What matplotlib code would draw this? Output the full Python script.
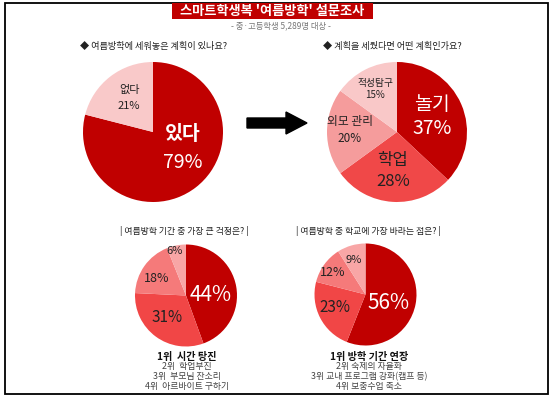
import matplotlib
matplotlib.use("Agg")
import matplotlib.pyplot as plt
from matplotlib.patches import Rectangle, FancyArrow

plt.rcParams['font.family'] = ['Noto Sans CJK KR', 'DejaVu Sans']

# ---------------- data ----------------
title = "스마트학생복 '여름방학' 설문조사"
subtitle = "- 중·고등학생 5,289명 대상 -"

q1 = "◆ 여름방학에 세워놓은 계획이 있나요?"
plan_labels = ["있다", "없다"]
plan_values = [79, 21]

q2 = "◆ 계획을 세웠다면 어떤 계획인가요?"
kind_labels = ["놀기", "학업", "외모 관리", "적성탐구"]
kind_values = [37, 28, 20, 15]

q3 = "| 여름방학 기간 중 가장 큰 걱정은? |"
worry_values = [44, 31, 18, 6]
worry_ranks = ["1위  시간 탕진", "2위  학업부진", "3위  부모님 잔소리", "4위  아르바이트 구하기"]

q4 = "| 여름방학 중 학교에 가장 바라는 점은? |"
wish_values = [56, 23, 12, 9]
wish_ranks = ["1위 방학 기간 연장", "2위 숙제의 자율화", "3위 교내 프로그램 강화(캠프 등)", "4위 보충수업 축소"]

# ---------------- figure ----------------
W, H = 550, 397
fig = plt.figure(figsize=(W / 100, H / 100), dpi=100)
ax = fig.add_axes([0, 0, 1, 1])


def Y(y):
    return H - y


DARK = '#C00000'
pie1_colors = [DARK, '#F9C9C9']
pie2_colors = [DARK, '#F04848', '#F59C9C', '#F9C8C8']
pie3_colors = [DARK, '#F14646', '#F57A7A', '#F8A6A6']

wp = dict(linewidth=0)
ax.pie(plan_values, colors=pie1_colors, startangle=90, counterclock=False,
       center=(153, Y(132)), radius=70, wedgeprops=wp)
ax.pie(kind_values, colors=pie2_colors, startangle=90, counterclock=False,
       center=(397, Y(132)), radius=70, wedgeprops=wp)
ax.pie(worry_values, colors=pie3_colors, startangle=90, counterclock=False,
       center=(186, Y(295.5)), radius=51, wedgeprops=wp)
ax.pie(wish_values, colors=pie3_colors, startangle=90, counterclock=False,
       center=(365.5, Y(294.5)), radius=51, wedgeprops=wp)

ax.set_xlim(0, W)
ax.set_ylim(0, H)
ax.set_aspect('auto')
ax.axis('off')

# frame
ax.add_patch(Rectangle((4.5, Y(394)), 543.5, 391, fill=False, edgecolor='black', linewidth=1.3))

# title
ax.add_patch(Rectangle((172, Y(19)), 201, 16, facecolor=DARK, edgecolor='none'))
ax.text(272.5, Y(11), title, ha='center', va='center', color='white', fontsize=9.5, fontweight='bold')
ax.text(281, Y(25.5), subtitle, ha='center', va='center', color='#777777', fontsize=6)

# questions
ax.text(80, Y(46), q1, ha='left', va='center', fontsize=6.6, color='#222222')
ax.text(323, Y(46), q2, ha='left', va='center', fontsize=6.6, color='#222222')
ax.text(184.5, Y(231), q3, ha='center', va='center', fontsize=6.4, color='#222222')
ax.text(368.5, Y(231), q4, ha='center', va='center', fontsize=6.4, color='#222222')

# arrow
ax.add_patch(FancyArrow(247, Y(123), 60, 0, width=10, head_width=22, head_length=21,
                        length_includes_head=True, color='black'))

# pie 1 labels
ax.text(183, Y(134), plan_labels[0], ha='center', va='center', color='white', fontsize=14, fontweight='bold')
ax.text(183, Y(163), f"{plan_values[0]}%", ha='center', va='center', color='white', fontsize=14)
ax.text(129, Y(90), plan_labels[1], ha='center', va='center', color='#222222', fontsize=8)
ax.text(129, Y(106), f"{plan_values[1]}%", ha='center', va='center', color='#222222', fontsize=8)

# pie 2 labels
ax.text(432, Y(105), kind_labels[0], ha='center', va='center', color='white', fontsize=14)
ax.text(432, Y(128), f"{kind_values[0]}%", ha='center', va='center', color='white', fontsize=14)
ax.text(393, Y(160), kind_labels[1], ha='center', va='center', color='#222222', fontsize=12)
ax.text(393, Y(182), f"{kind_values[1]}%", ha='center', va='center', color='#222222', fontsize=12)
ax.text(350, Y(121), kind_labels[2], ha='center', va='center', color='#222222', fontsize=8.5)
ax.text(350, Y(138), f"{kind_values[2]}%", ha='center', va='center', color='#222222', fontsize=8.5)
ax.text(375, Y(83), kind_labels[3], ha='center', va='center', color='#222222', fontsize=7)
ax.text(375, Y(95), f"{kind_values[3]}%", ha='center', va='center', color='#222222', fontsize=7)

# pie 3 labels
ax.text(211, Y(295), f"{worry_values[0]}%", ha='center', va='center', color='white', fontsize=15)
ax.text(167, Y(318), f"{worry_values[1]}%", ha='center', va='center', color='#222222', fontsize=11)
ax.text(157, Y(278), f"{worry_values[2]}%", ha='center', va='center', color='#222222', fontsize=9)
ax.text(175, Y(251), f"{worry_values[3]}%", ha='center', va='center', color='#222222', fontsize=8)

# pie 4 labels
ax.text(389, Y(303), f"{wish_values[0]}%", ha='center', va='center', color='white', fontsize=15)
ax.text(335, Y(308), f"{wish_values[1]}%", ha='center', va='center', color='#222222', fontsize=11)
ax.text(333, Y(273), f"{wish_values[2]}%", ha='center', va='center', color='#222222', fontsize=9)
ax.text(354, Y(260), f"{wish_values[3]}%", ha='center', va='center', color='#222222', fontsize=8)

# rankings
rank_y = [357, 367, 376.5, 386]
for i, (a, b) in enumerate(zip(worry_ranks, wish_ranks)):
    if i == 0:
        kw = dict(fontsize=7.3, fontweight='bold', color='#111111')
    else:
        kw = dict(fontsize=6.4, color='#444444')
    ax.text(187, Y(rank_y[i]), a, ha='center', va='center', **kw)
    ax.text(369, Y(rank_y[i]), b, ha='center', va='center', **kw)

fig.savefig('out.png', dpi=100)
